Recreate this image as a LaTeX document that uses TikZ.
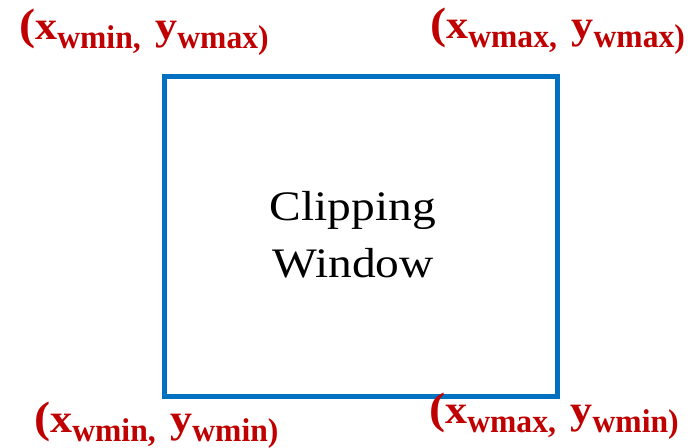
\documentclass[tikz,border=0pt]{standalone}
\usepackage{fontspec}
\setmainfont{Liberation Serif}
\usepackage{graphicx}

\definecolor{winblue}{RGB}{0,112,192}
\definecolor{lblred}{RGB}{192,0,0}

% subscript part of a corner label
\newcommand{\lblsub}[1]{\raisebox{-6.75pt}{\scalebox{0.87}[1]{\fontsize{24.75}{24.75}\selectfont #1}}}

% corner label: (x_#1, y_#2)
\newcommand{\cornerlbl}[2]{%
  \scalebox{1.1}[1]{\bfseries
    {\fontsize{33}{33}\selectfont (}%
    {\fontsize{30}{30}\selectfont x}%
    \lblsub{#1,}\hspace{10pt}%
    {\fontsize{30}{30}\selectfont y}%
    \lblsub{#2)}}}

\begin{document}
\begin{tikzpicture}[x=0.75pt, y=-0.75pt,
    window/.style={draw=winblue, line width=3.75pt, minimum width=294.4pt,
        minimum height=239.6pt, inner sep=0pt},
    caption/.style={align=center, font=\fontsize{31.5}{42.75}\selectfont},
    corner/.style={anchor=base west, inner sep=0pt, text=lblred}]

    \useasboundingbox (0,0) rectangle (692,447);

    % Window
    \node[window] (win) at (360.75,236.5) {};
    \node[caption] (cap) at (353,235)
        {\scalebox{1.13}[1]{Clipping}\\\scalebox{1.13}[1]{Window}};

    % Corner labels
    \node[corner] (tl) at (19,39) {\cornerlbl{wmin}{wmax}};
    \node[corner] (tr) at (430,38) {\cornerlbl{wmax}{wmax}};
    \node[corner] (bl) at (34,432) {\cornerlbl{wmin}{wmin}};
    \node[corner] (br) at (429,423) {\cornerlbl{wmax}{wmin}};

\end{tikzpicture}
\end{document}
